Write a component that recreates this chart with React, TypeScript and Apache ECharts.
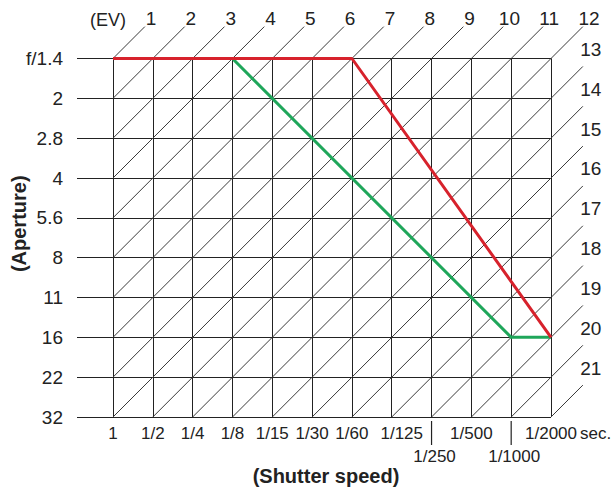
import React, { useEffect, useRef } from "react";
import * as echarts from "echarts";

const shutterLabels = ["1", "1/2", "1/4", "1/8", "1/15", "1/30", "1/60", "1/125", "1/250", "1/500", "1/1000", "1/2000"];
const apertureLabels = ["f/1.4", "2", "2.8", "4", "5.6", "8", "11", "16", "22", "32"];
const evValues = [1, 2, 3, 4, 5, 6, 7, 8, 9, 10, 11, 12, 13, 14, 15, 16, 17, 18, 19, 20, 21];
const loweredShutterLabels = ["1/250", "1/1000"];
const redProgram: [string, string][] = [
  ["1", "f/1.4"],
  ["1/60", "f/1.4"],
  ["1/2000", "16"],
];
const greenProgram: [string, string][] = [
  ["1", "f/1.4"],
  ["1/8", "f/1.4"],
  ["1/1000", "16"],
  ["1/2000", "16"],
];

const FONT = '"Liberation Sans", Arial, Helvetica, sans-serif';
const INK = "#222";

function toIdx(p: [string, string]) {
  return [shutterLabels.indexOf(p[0]), apertureLabels.indexOf(p[1])];
}

export default function App() {
  const ref = useRef<HTMLDivElement>(null);
  useEffect(() => {
    if (!ref.current) return;
    const chart = echarts.init(ref.current, null, { renderer: "svg" });
    const nx = shutterLabels.length - 1;
    const ny = apertureLabels.length - 1;
    const ext = 0.8;

    const option: any = {
      animation: false,
      backgroundColor: "#fff",
      grid: { left: 113, right: 62, top: 58.5, bottom: 71, containLabel: false, outerBoundsMode: "none" },
      xAxis: {
        type: "value",
        min: 0,
        max: nx,
        interval: 1,
        name: "(Shutter speed)",
        nameLocation: "middle",
        nameGap: 49,
        nameMoveOverlap: false,
        nameTextStyle: {
          fontFamily: FONT,
          fontSize: 20,
          fontWeight: "bold",
          color: INK,
          padding: [0, 12, 0, 0],
        },
        axisLine: { show: true, lineStyle: { color: INK, width: 1 } },
        axisTick: { show: false },
        splitLine: { show: true, lineStyle: { color: INK, width: 1 } },
        axisLabel: {
          margin: 5,
          showMinLabel: true,
          showMaxLabel: true,
          hideOverlap: false,
          fontFamily: FONT,
          fontSize: 17,
          color: INK,
          lineHeight: 22,
          rich: {
            r: { fontFamily: FONT, fontSize: 17, color: INK, lineHeight: 22, padding: [0, 0, 0, 20] },
          },
          formatter: (v: number) => {
            const l = shutterLabels[Math.round(v)] ?? "";
            if (loweredShutterLabels.includes(l)) return "";
            if (l === "1/125") return "{r|" + l + "}";
            return l;
          },
        },
      },
      yAxis: {
        type: "value",
        inverse: true,
        min: 0,
        max: ny,
        interval: 1,
        name: "(Aperture)",
        nameLocation: "middle",
        nameRotate: 90,
        nameGap: 84,
        nameMoveOverlap: false,
        nameTextStyle: {
          fontFamily: FONT,
          fontSize: 20,
          fontWeight: "bold",
          color: INK,
          padding: [0, 0, 0, 28],
        },
        axisLine: { show: true, lineStyle: { color: INK, width: 1 } },
        axisTick: { show: true, length: 36, lineStyle: { color: INK, width: 1 } },
        splitLine: { show: true, lineStyle: { color: INK, width: 1 } },
        axisLabel: {
          margin: 50,
          showMinLabel: true,
          showMaxLabel: true,
          fontFamily: FONT,
          fontSize: 19,
          color: INK,
          formatter: (v: number) => apertureLabels[Math.round(v)] ?? "",
        },
      },
      graphic: [
        {
          type: "text",
          x: 108,
          y: 20,
          style: { text: "(EV)", fontFamily: FONT, fontSize: 18, fill: INK, align: "center", verticalAlign: "middle" },
        },
        {
          type: "text",
          x: 580,
          y: 433,
          style: { text: "sec.", fontFamily: FONT, fontSize: 17, fill: INK, align: "left", verticalAlign: "middle" },
        },
      ],
      series: [
        {
          type: "custom",
          coordinateSystem: "cartesian2d",
          clip: false,
          z: 2,
          silent: true,
          data: evValues.map((ev) => [ev, 0]),
          renderItem: (params: any, api: any) => {
            const ev = api.value(0);
            const k = ev - 1;
            const start = k <= ny ? [0, k] : [k - ny, ny];
            const end = k <= nx ? [k, 0] : [nx, k - nx];
            const tip = [end[0] + ext, end[1] - ext];
            const lab = k <= nx ? [k + 0.955, -1.005] : [nx + 1.0, k - nx - 1.23];
            const p1 = api.coord(start);
            const p2 = api.coord(tip);
            const pl = api.coord(lab);
            return {
              type: "group",
              children: [
                {
                  type: "line",
                  shape: { x1: p1[0], y1: p1[1], x2: p2[0], y2: p2[1] },
                  style: { stroke: "#3a3a3a", lineWidth: 1 },
                },
                {
                  type: "text",
                  x: pl[0],
                  y: pl[1],
                  style: {
                    text: String(ev),
                    fontFamily: FONT,
                    fontSize: 19,
                    fill: INK,
                    align: "center",
                    verticalAlign: "middle",
                  },
                },
              ],
            };
          },
        },
        {
          type: "custom",
          coordinateSystem: "cartesian2d",
          clip: false,
          z: 2,
          silent: true,
          data: loweredShutterLabels.map((l) => [shutterLabels.indexOf(l), ny]),
          renderItem: (params: any, api: any) => {
            const idx = api.value(0);
            const p = api.coord([idx, api.value(1)]);
            return {
              type: "group",
              children: [
                {
                  type: "line",
                  shape: { x1: p[0], y1: p[1] + 4, x2: p[0], y2: p[1] + 28 },
                  style: { stroke: INK, lineWidth: 1.2 },
                },
                {
                  type: "text",
                  x: p[0] + 3,
                  y: p[1] + 39,
                  style: {
                    text: shutterLabels[idx],
                    fontFamily: FONT,
                    fontSize: 17,
                    fill: INK,
                    align: "center",
                    verticalAlign: "middle",
                  },
                },
              ],
            };
          },
        },
        {
          type: "line",
          name: "green",
          z: 3,
          clip: false,
          symbol: "none",
          data: greenProgram.map(toIdx),
          lineStyle: { color: "#1fa65a", width: 3 },
        },
        {
          type: "line",
          name: "red",
          z: 4,
          clip: false,
          symbol: "none",
          data: redProgram.map(toIdx),
          lineStyle: { color: "#d7222c", width: 3 },
        },
      ],
    };
    chart.setOption(option);
    return () => chart.dispose();
  }, []);
  return (
    <div
      ref={ref}
      style={{ position: "fixed", left: 0, top: 0, width: 613, height: 488, background: "#fff" }}
    />
  );
}
